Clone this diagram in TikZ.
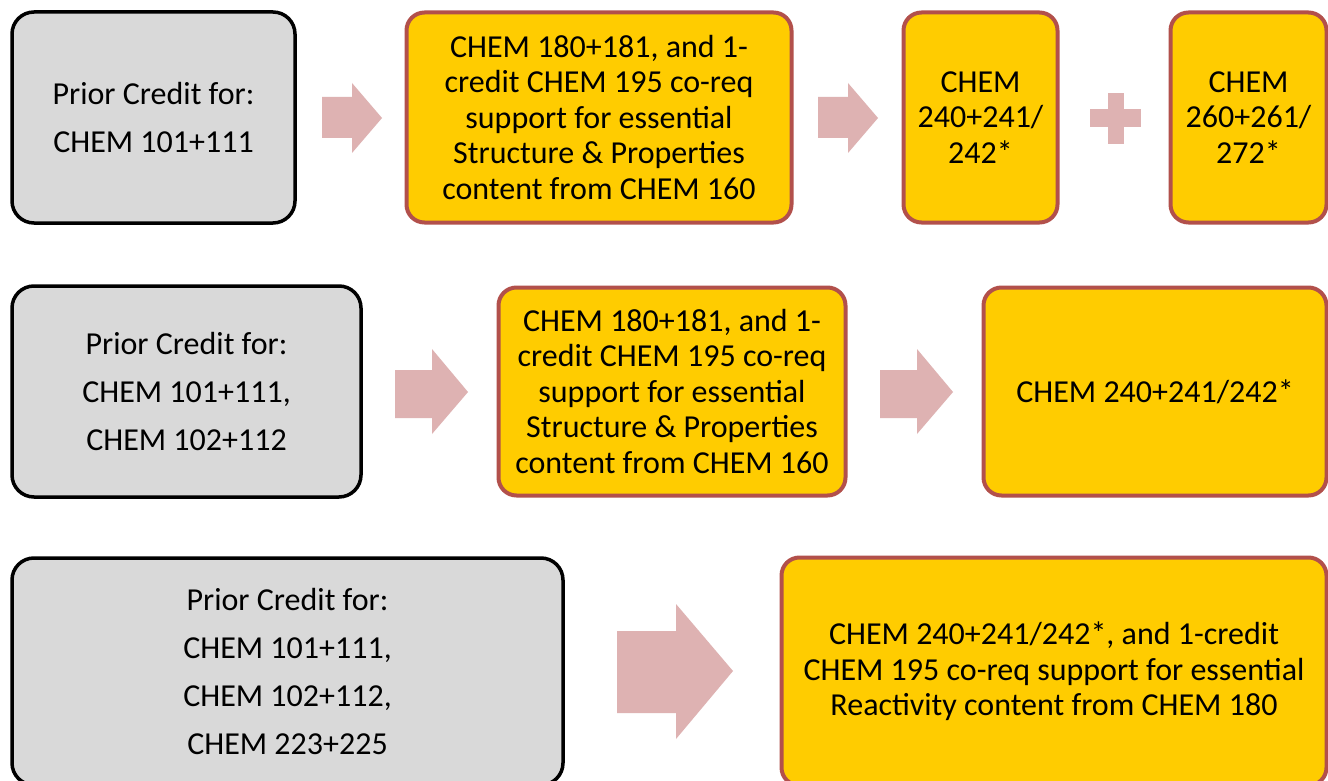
\documentclass[tikz,border=0pt]{standalone}
\usepackage{fontspec}
\setmainfont{Carlito}
\definecolor{priorgrey}{HTML}{D9D9D9}
\definecolor{courseyellow}{HTML}{FFCC00}
\definecolor{courseedge}{RGB}{178,80,75}
\definecolor{arrowpink}{RGB}{222,178,178}
\begin{document}
\begin{tikzpicture}[x=1pt,y=-1pt,
  prior/.style={draw=black, line width=3.5pt, fill=priorgrey, rounded corners=22pt,
    align=center, inner sep=0pt, font=\fontsize{32}{48}\selectfont},
  course/.style={draw=courseedge, line width=4pt, fill=courseyellow, rounded corners=18pt,
    align=center, inner sep=0pt, font=\fontsize{32}{35.5}\selectfont},
  flow/.style={fill=arrowpink}]
\clip (0,0) rectangle (1328,781);
\fill[white] (0,0) rectangle (1328,781);

% ---- first pathway ----
\node[prior, minimum width=283pt, minimum height=211pt] (a1) at (153.5,117.5)
  {Prior Credit for:\\CHEM 101+111};
\node[course, minimum width=385pt, minimum height=210pt] (b1) at (599,117.5)
  {CHEM 180+181, and 1-\\credit CHEM 195 co-req\\support for essential\\Structure \& Properties\\content from CHEM 160};
\node[course, minimum width=154pt, minimum height=210pt] (c1) at (980.5,117.5)
  {CHEM\\240+241/\\242*};
\node[course, minimum width=156pt, minimum height=210pt] (d1) at (1248.5,117.5)
  {CHEM\\260+261/\\272*};
\fill[flow] (322,97) -- (352,97) -- (352,83) -- (382,118) -- (352,153) -- (352,138) -- (322,138) -- cycle;
\fill[flow] (818,97) -- (848,97) -- (848,83) -- (878,118) -- (848,153) -- (848,138) -- (818,138) -- cycle;
% plus sign between the two parallel courses
\fill[flow] (1090,109) rectangle (1141,127);
\fill[flow] (1108,93) rectangle (1124,144);

% ---- second pathway ----
\node[prior, minimum width=349pt, minimum height=211pt] (a2) at (186.5,391.5)
  {Prior Credit for:\\CHEM 101+111,\\CHEM 102+112};
\node[course, minimum width=347pt, minimum height=208pt] (b2) at (672,391.5)
  {CHEM 180+181, and 1-\\credit CHEM 195 co-req\\support for essential\\Structure \& Properties\\content from CHEM 160};
\node[course, minimum width=343pt, minimum height=208pt] (c2) at (1155,391.5)
  {CHEM 240+241/242*};
\fill[flow] (395,370) -- (432,370) -- (432,349) -- (468,392) -- (432,434) -- (432,418) -- (395,418) -- cycle;
\fill[flow] (880,370) -- (917,370) -- (917,349) -- (953,392) -- (917,434) -- (917,418) -- (880,418) -- cycle;

% ---- third pathway ----
\node[prior, minimum width=551pt, minimum height=227pt] (a3) at (287.5,671.5)
  {Prior Credit for:\\CHEM 101+111,\\CHEM 102+112,\\CHEM 223+225};
\node[course, minimum width=545pt, minimum height=228pt] (b3) at (1054,671.5)
  {CHEM 240+241/242*, and 1-credit\\CHEM 195 co-req support for essential\\Reactivity content from CHEM 180};
\fill[flow] (617,631) -- (676,631) -- (676,604) -- (733,671) -- (676,739) -- (676,713) -- (617,713) -- cycle;
\end{tikzpicture}
\end{document}
